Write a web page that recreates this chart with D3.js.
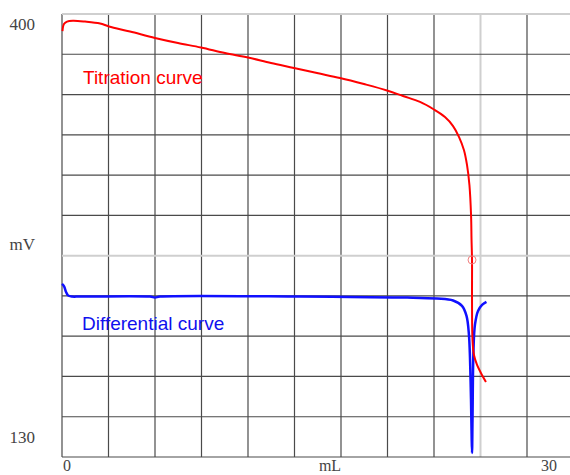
<!DOCTYPE html>
<html>
<head>
<meta charset="utf-8">
<script src="https://cdn.jsdelivr.net/npm/d3@7"></script>
<style>
  body { margin: 0; background: #fff; }
  svg { display: block; }
</style>
</head>
<body>
<div id="chart"></div>
<script>
// titration curve (mL, mV)
const titrationVol = [0.03, 0.12, 0.31, 0.68, 1.42, 2.35, 2.90, 4.20, 5.74, 7.16, 8.58, 10.06, 11.48, 12.90,
  14.32, 15.74, 17.16, 18.64, 20.06, 21.05, 22.10, 22.96, 23.64, 24.14, 24.51, 24.81, 25.00, 25.15,
  25.25, 25.28, 25.31, 25.31, 25.34, 25.43, 25.62, 25.86, 26.17];
const titrationMv = [389.6, 393.9, 395.4, 395.9, 395.4, 394.2, 392.4, 389.3, 385.4, 382.3, 379.6, 376.2, 373.5, 370.1,
  367.1, 364.0, 361.0, 357.3, 353.4, 350.0, 346.4, 341.8, 337.2, 331.7, 325.0, 317.1, 308.0, 295.8,
  277.5, 262.3, 250.1, 225.7, 201.3, 192.2, 186.1, 181.2, 175.7];

// differential curve (mL, scaled)
const diffVol = [0, 0.12, 0.25, 0.37, 0.62, 1.11, 5.43, 5.74, 6.05, 14.69, 17.78, 21.30, 23.15, 24.14,
  24.69, 24.97, 25.12, 25.22, 25.28, 25.31, 25.34, 25.40, 25.49, 25.68, 25.93, 26.20];
const diffMv = [235.5, 234.2, 230.6, 228.5, 227.8, 227.8, 227.8, 227.2, 227.8, 227.8, 227.5, 227.2, 226.6, 225.4,
  222.1, 216.0, 204.4, 176.9, 146.5, 132.5, 152.6, 195.2, 210.5, 219.0, 222.7, 224.5];

const endpoint = [25.31, 250.1];

const yLabels = ["400", "mV", "130"];
const xLabels = ["0", "mL", "30"];

const W = 570, H = 475;
const svg = d3.select("#chart").append("svg")
  .attr("width", W)
  .attr("height", H);

const x = d3.scaleLinear().domain([0, 30]).range([62, 548]);
const y = d3.scaleLinear().domain([130, 400]).range([457, 14]);

// grid: 11 x 11 cells
const gx = d3.scaleLinear().domain([0, 11]).range([62, 573.5]);
const gy = d3.scaleLinear().domain([0, 11]).range([14, 457]);
const lightCols = [9], lightRows = [0, 6];

const grid = svg.append("g");
grid.selectAll("line.v")
  .data(d3.range(0, 12))
  .join("line")
  .attr("class", "v")
  .attr("x1", d => gx(d)).attr("x2", d => gx(d))
  .attr("y1", gy(0)).attr("y2", gy(11))
  .attr("stroke", d => lightCols.includes(d) ? "#cfcfcf" : "#4a4a4a")
  .attr("stroke-width", d => lightCols.includes(d) ? 2 : 1.2);

grid.selectAll("line.h")
  .data(d3.range(0, 12))
  .join("line")
  .attr("class", "h")
  .attr("y1", d => gy(d)).attr("y2", d => gy(d))
  .attr("x1", gx(0)).attr("x2", W)
  .attr("stroke", d => lightRows.includes(d) ? "#cfcfcf" : "#4a4a4a")
  .attr("stroke-width", d => lightRows.includes(d) ? 2 : 1.2);

const line = d3.line()
  .x(d => x(d[0]))
  .y(d => y(d[1]))
  .curve(d3.curveCatmullRom.alpha(0.5));

svg.append("path")
  .datum(d3.zip(diffVol, diffMv))
  .attr("d", line)
  .attr("fill", "none")
  .attr("stroke", "#1010ff")
  .attr("stroke-width", 2.5)
  .attr("stroke-linejoin", "round");

svg.append("path")
  .datum(d3.zip(titrationVol, titrationMv))
  .attr("d", line)
  .attr("fill", "none")
  .attr("stroke", "#ff0000")
  .attr("stroke-width", 2)
  .attr("stroke-linejoin", "round");

svg.append("circle")
  .attr("cx", x(endpoint[0]))
  .attr("cy", y(endpoint[1]))
  .attr("r", 4)
  .attr("fill", "none")
  .attr("stroke", "#f08080")
  .attr("stroke-width", 1);

// curve labels
svg.append("text")
  .attr("x", 83).attr("y", 84)
  .style("font-family", "'Liberation Sans', Arial, sans-serif")
  .style("font-size", "19px")
  .attr("fill", "#ff0000")
  .text("Titration curve");

svg.append("text")
  .attr("x", 82).attr("y", 330)
  .style("font-family", "'Liberation Sans', Arial, sans-serif")
  .style("font-size", "19px")
  .attr("fill", "#1010ee")
  .text("Differential curve");

// axis labels
const axisFont = "'Liberation Serif', 'Times New Roman', serif";
svg.selectAll("text.ylab")
  .data(yLabels)
  .join("text")
  .attr("class", "ylab")
  .attr("x", 35)
  .attr("y", (d, i) => [30, 250, 443][i])
  .attr("text-anchor", "end")
  .style("font-family", axisFont)
  .style("font-size", "17px")
  .attr("fill", "#444")
  .text(d => d);

svg.selectAll("text.xlab")
  .data(xLabels)
  .join("text")
  .attr("class", "xlab")
  .attr("x", (d, i) => [67, 330, 549][i])
  .attr("y", 471)
  .attr("text-anchor", "middle")
  .style("font-family", axisFont)
  .style("font-size", "16px")
  .attr("fill", "#444")
  .text(d => d);
</script>
</body>
</html>
